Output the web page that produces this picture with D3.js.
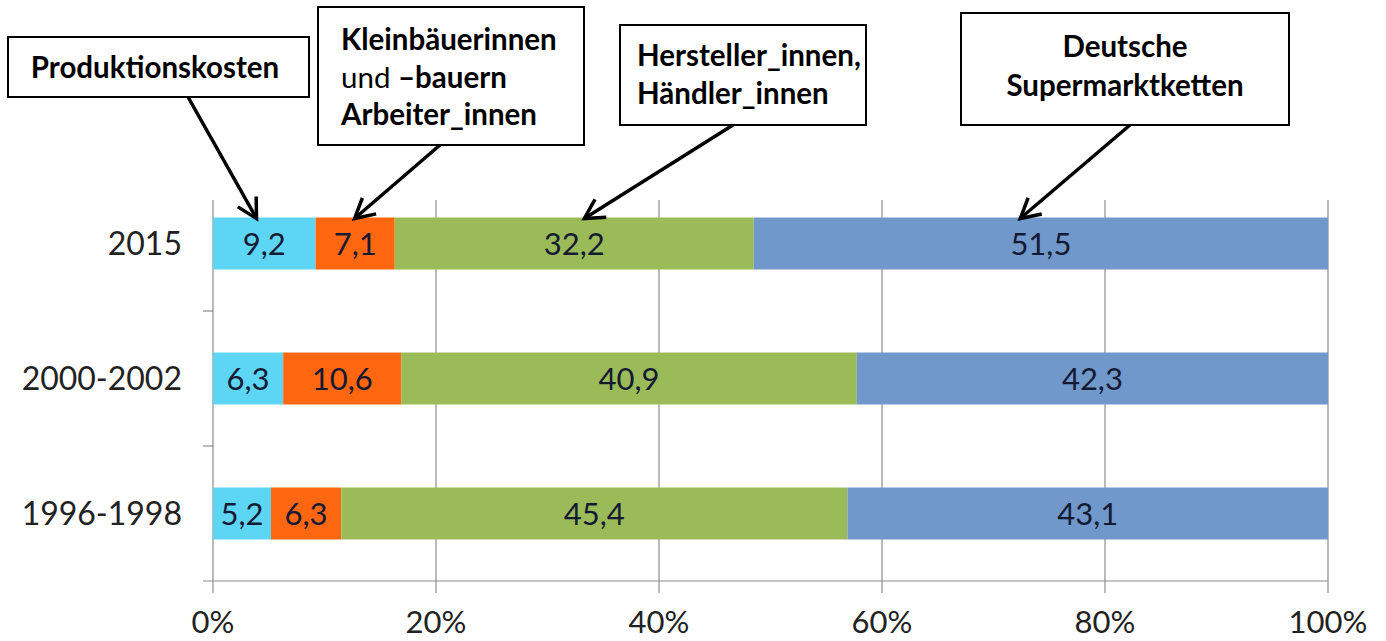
<!DOCTYPE html>
<html>
<head>
<meta charset="utf-8">
<script src="https://cdn.jsdelivr.net/npm/d3@7"></script>
<style>
  html, body { margin: 0; padding: 0; background: #fff; }
  svg { display: block; font-family: Lato, "Open Sans", sans-serif; }
</style>
</head>
<body>
<div id="chart"></div>
<script>
// chart data
const categories = ["2015", "2000-2002", "1996-1998"];
const seriesKeys = ["produktion", "bauern", "hersteller", "supermarkt"];
const produktion = [9.2, 6.3, 5.2];
const bauern = [7.1, 10.6, 6.3];
const hersteller = [32.2, 40.9, 45.4];
const supermarkt = [51.5, 42.3, 43.1];
const xTicks = [0, 0.2, 0.4, 0.6, 0.8, 1];
const colors = ["#5dd5f5", "#ff6610", "#9bbb59", "#7098cb"];

// callout texts; tip = where the arrow points (percent of the 2015 bar)
const callouts = [
  { lines: [[["Produktionskosten", true]]], tip: 3.9 },
  { lines: [[["Kleinbäuerinnen", true]], [["und ", false], ["–bauern", true]], [["Arbeiter_innen", true]]], tip: 12.7 },
  { lines: [[["Hersteller_innen,", true]], [["Händler_innen", true]]], tip: 33.3 },
  { lines: [[["Deutsche", true]], [["Supermarktketten", true]]], tip: 72.4 }
];

const width = 1386, height = 641;
const svg = d3.select("#chart").append("svg")
  .attr("width", width)
  .attr("height", height);

const rows = categories.map((c, i) => ({
  cat: c,
  produktion: produktion[i],
  bauern: bauern[i],
  hersteller: hersteller[i],
  supermarkt: supermarkt[i]
}));

// 100% stacked, like Excel does it
const stack = d3.stack().keys(seriesKeys).offset(d3.stackOffsetExpand);
const series = stack(rows);

const x = d3.scaleLinear().domain([0, 1]).range([213, 1328]);
const y = d3.scaleBand().domain(categories).range([176, 581])
  .paddingInner(0.615).paddingOuter(0.3075);

const gridTop = 200, axisY = 581;
const de = d3.formatLocale({ decimal: ",", thousands: ".", grouping: [3], currency: ["", "€"] });
const fmt = de.format(".1f");

// gridlines (they also act as the x ticks below the axis)
svg.append("g")
  .selectAll("line")
  .data(xTicks)
  .join("line")
  .attr("x1", d => x(d)).attr("x2", d => x(d))
  .attr("y1", gridTop).attr("y2", axisY + 12)
  .attr("stroke", "#8c8c8c")
  .attr("stroke-width", 1.2);

// bottom axis line
svg.append("line")
  .attr("x1", x(0) - 10).attr("x2", x(1))
  .attr("y1", axisY).attr("y2", axisY)
  .attr("stroke", "#8c8c8c")
  .attr("stroke-width", 1.2);

// category ticks on the y axis (between bands)
svg.append("g")
  .selectAll("line")
  .data(categories.slice(0, -1))
  .join("line")
  .attr("x1", x(0) - 10).attr("x2", x(0))
  .attr("y1", d => y(d) + y.bandwidth() + y.step() * y.paddingInner() / 2)
  .attr("y2", d => y(d) + y.bandwidth() + y.step() * y.paddingInner() / 2)
  .attr("stroke", "#8c8c8c")
  .attr("stroke-width", 1.2);

// x tick labels
svg.append("g")
  .selectAll("text")
  .data(xTicks)
  .join("text")
  .attr("x", d => x(d))
  .attr("y", 633)
  .attr("text-anchor", "middle")
  .style("font-size", "31px")
  .attr("fill", "#222")
  .text(d3.format(".0%"));

// y labels
svg.append("g")
  .selectAll("text")
  .data(categories)
  .join("text")
  .attr("x", 182)
  .attr("y", d => y(d) + y.bandwidth() / 2 + 11)
  .attr("text-anchor", "end")
  .style("font-size", "32px")
  .attr("fill", "#222")
  .text(d => d);

// bars
const groups = svg.append("g")
  .selectAll("g")
  .data(series)
  .join("g")
  .attr("fill", (d, i) => colors[i]);

groups.selectAll("rect")
  .data(d => d)
  .join("rect")
  .attr("x", d => x(d[0]))
  .attr("y", d => y(d.data.cat))
  .attr("width", d => x(d[1]) - x(d[0]))
  .attr("height", y.bandwidth());

// value labels
groups.selectAll("text")
  .data(d => d.map(p => ({ p, key: d.key })))
  .join("text")
  .attr("x", d => (x(d.p[0]) + x(d.p[1])) / 2)
  .attr("y", d => y(d.p.data.cat) + y.bandwidth() / 2 + 11)
  .attr("text-anchor", "middle")
  .style("font-size", "31px")
  .attr("fill", "#151a33")
  .text(d => fmt(d.p.data[d.key]));

// callout boxes
const boxes = [
  { x: 8, y: 37, w: 301, h: 60, anchor: "middle", tx: 155, base: [78], from: 188 },
  { x: 318, y: 7, w: 266, h: 138, anchor: "start", tx: 341, base: [50, 88, 125], from: 440 },
  { x: 620, y: 25, w: 246, h: 100, anchor: "start", tx: 637, base: [66, 104], from: 733 },
  { x: 961, y: 13, w: 328, h: 112, anchor: "middle", tx: 1125, base: [57, 96], from: 1130 }
];

const ann = svg.append("g");
callouts.forEach((c, i) => {
  const b = boxes[i];
  ann.append("rect")
    .attr("x", b.x).attr("y", b.y)
    .attr("width", b.w).attr("height", b.h)
    .attr("fill", "#fff")
    .attr("stroke", "#000")
    .attr("stroke-width", 2);

  c.lines.forEach((line, j) => {
    const t = ann.append("text")
      .attr("x", b.tx)
      .attr("y", b.base[j])
      .attr("text-anchor", b.anchor)
      .style("font-size", "29.5px")
      .attr("fill", "#000");
    line.forEach(([s, bold]) => {
      t.append("tspan")
        .style("font-weight", bold ? "bold" : "normal")
        .text(s);
    });
  });

  // arrow from box to the 2015 bar
  const x0 = b.from, y0 = b.y + b.h;
  const x1 = x(c.tip / 100), y1 = y(categories[0]) + 1;
  const a = Math.atan2(y1 - y0, x1 - x0);
  const len = 22, spread = 0.5;
  ann.append("line")
    .attr("x1", x0).attr("y1", y0)
    .attr("x2", x1).attr("y2", y1)
    .attr("stroke", "#000")
    .attr("stroke-width", 3.5);
  ann.append("path")
    .attr("d", `M${x1 - len * Math.cos(a - spread)},${y1 - len * Math.sin(a - spread)}` +
               `L${x1},${y1}` +
               `L${x1 - len * Math.cos(a + spread)},${y1 - len * Math.sin(a + spread)}`)
    .attr("fill", "none")
    .attr("stroke", "#000")
    .attr("stroke-width", 3.5)
    .attr("stroke-linejoin", "miter");
});
</script>
</body>
</html>
